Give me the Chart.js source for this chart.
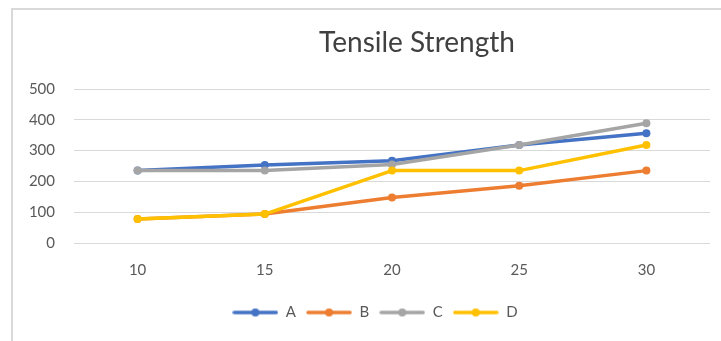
<!DOCTYPE html>
<html>
<head>
<meta charset="utf-8">
<script src="https://cdn.jsdelivr.net/npm/chart.js@4"></script>
<style>
  html, body { margin: 0; padding: 0; background: #fff; }
  #wrap { position: relative; width: 721px; height: 341px; overflow: hidden; }
  #frame { position: absolute; left: 11px; top: 8px; width: 760px; height: 400px;
           border-left: 2px solid #d9d9d9; border-top: 2px solid #d9d9d9; box-sizing: border-box; }
  canvas { position: absolute; left: 0; top: 0; }
</style>
</head>
<body>
<div id="wrap">
  <div id="frame"></div>
  <canvas id="chart" width="721" height="341"></canvas>
</div>
<script>
// Tensile strength by setting
const categories = ['10', '15', '20', '25', '30'];
const seriesA = [235, 253, 267, 318, 356];
const seriesB = [78, 94, 148, 186, 235];
const seriesC = [235, 235, 255, 318, 389];
const seriesD = [78, 94, 235, 235, 318];
const yTicks = [0, 100, 200, 300, 400, 500];

const FONT = 'Lato, "Open Sans", sans-serif';
const TEXT = '#595959';

// Legend swatch: short line with a marker in the middle
function swatch(color) {
  const c = document.createElement('canvas');
  c.width = 46; c.height = 10;
  const g = c.getContext('2d');
  g.strokeStyle = color; g.lineWidth = 3.5; g.lineCap = 'round';
  g.beginPath(); g.moveTo(2, 5); g.lineTo(44, 5); g.stroke();
  g.fillStyle = color;
  g.beginPath(); g.arc(23, 5, 4, 0, Math.PI * 2); g.fill();
  return c;
}

function series(label, data, color, order) {
  return {
    label, data, order,
    borderColor: color, backgroundColor: color,
    borderWidth: 3.5, pointRadius: 4, pointBorderWidth: 0,
    pointBackgroundColor: color, pointStyle: 'circle',
    borderJoinStyle: 'round', borderCapStyle: 'round',
    tension: 0
  };
}

// Title drawn at a fixed spot over the plot
const titlePlugin = {
  id: 'fixedTitle',
  afterDraw(chart) {
    const ctx = chart.ctx;
    ctx.save();
    ctx.font = '28px ' + FONT;
    ctx.fillStyle = '#404040';
    ctx.textAlign = 'center';
    ctx.textBaseline = 'middle';
    ctx.fillText('Tensile Strength', 417, 43);
    ctx.restore();
  }
};

// Legend sits a little right of the canvas centre
const legendShift = {
  id: 'legendShift',
  afterLayout(chart) {
    const lg = chart.legend;
    if (lg) { lg.left += 20; lg.right += 20; }
  }
};

new Chart(document.getElementById('chart'), {
  type: 'line',
  data: {
    labels: categories,
    datasets: [
      series('A', seriesA, '#4472C4', 3),
      series('B', seriesB, '#ED7D31', 2),
      series('C', seriesC, '#A5A5A5', 1),
      series('D', seriesD, '#FFC000', 0)
    ]
  },
  options: {
    responsive: false,
    animation: false,
    devicePixelRatio: 1,
    layout: { padding: { left: 0, right: 11, top: 89, bottom: 11 } },
    plugins: {
      title: { display: false },
      tooltip: { enabled: false },
      legend: {
        position: 'bottom',
        labels: {
          usePointStyle: true,
          pointStyleWidth: 46,
          padding: 10,
          color: TEXT,
          font: { family: FONT, size: 15 },
          generateLabels(chart) {
            return chart.data.datasets.map((ds, i) => ({
              text: ds.label,
              fillStyle: ds.borderColor,
              strokeStyle: ds.borderColor,
              lineWidth: 0,
              pointStyle: swatch(ds.borderColor),
              fontColor: TEXT,
              hidden: false,
              datasetIndex: i
            }));
          }
        }
      }
    },
    scales: {
      x: {
        offset: true,
        grid: { display: false, drawTicks: false },
        border: { display: false },
        ticks: { color: TEXT, font: { family: FONT, size: 15 }, padding: 18 },
        afterFit(scale) { scale.height = 52; }
      },
      y: {
        min: 0, max: 500,
        afterBuildTicks(scale) { scale.ticks = yTicks.map(v => ({ value: v })); },
        grid: { color: '#d9d9d9', lineWidth: 1, drawTicks: false },
        border: { display: false },
        ticks: { color: TEXT, font: { family: FONT, size: 15 }, padding: 19 },
        afterFit(scale) { scale.width = 74; }
      }
    }
  },
  plugins: [titlePlugin, legendShift]
});
</script>
</body>
</html>
